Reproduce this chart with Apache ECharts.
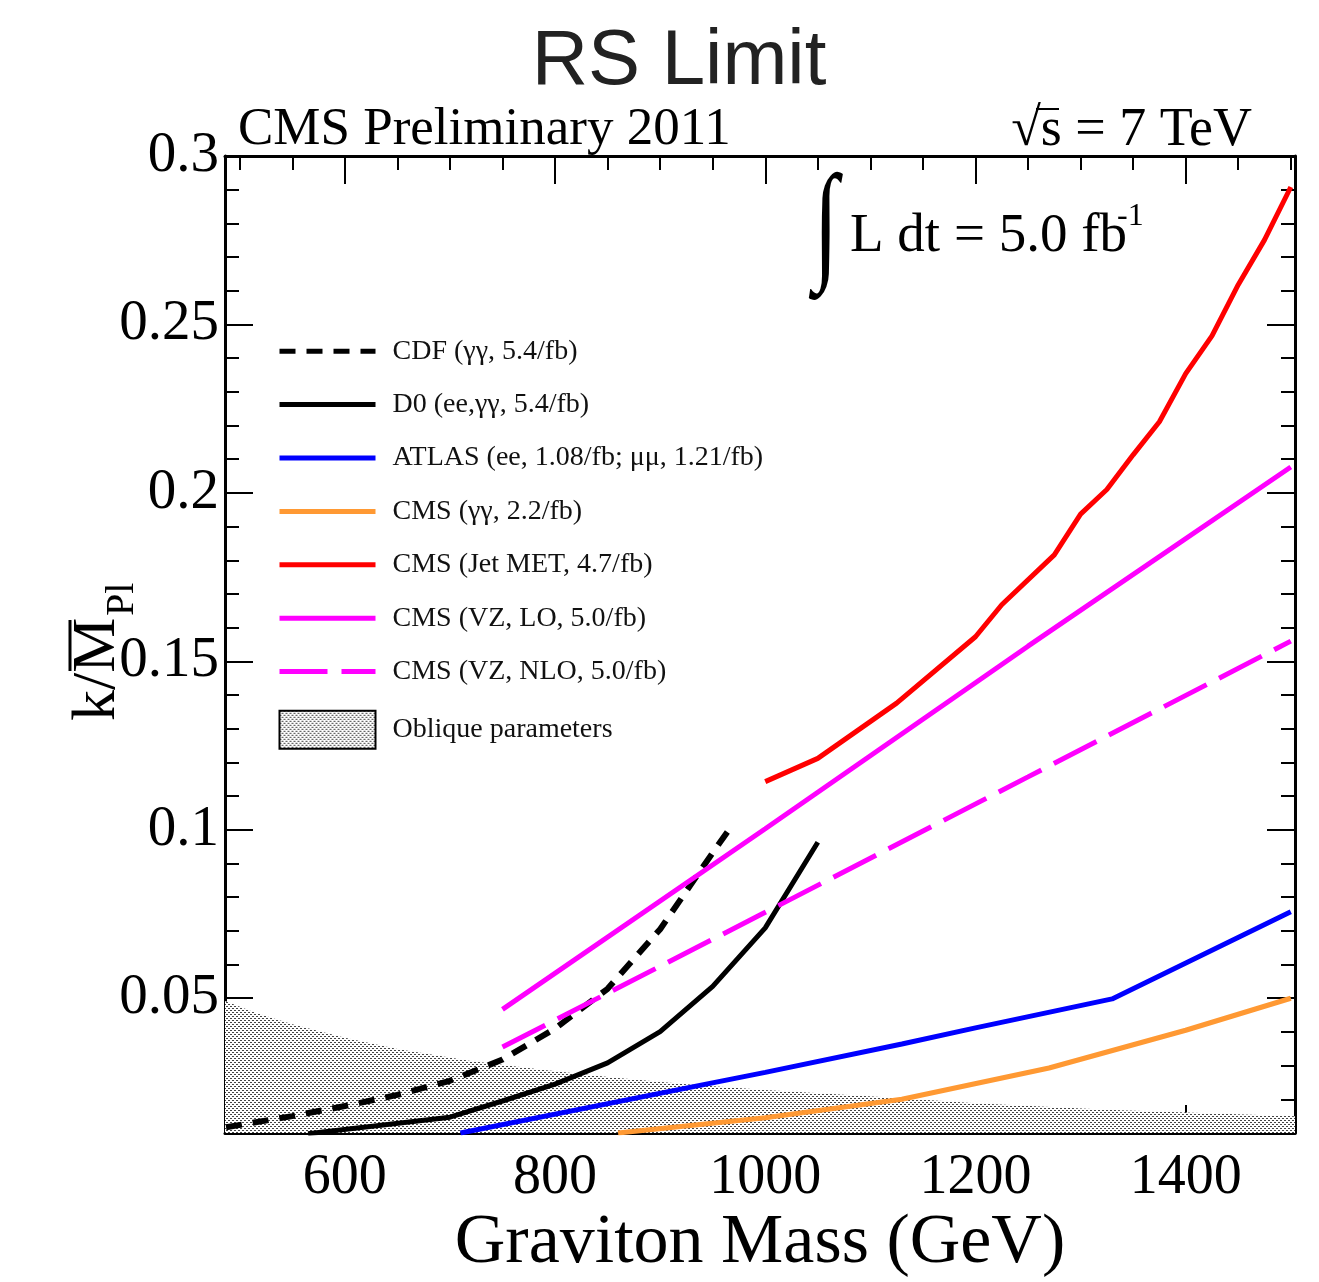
<!DOCTYPE html>
<html>
<head>
<meta charset="utf-8">
<script src="https://cdn.jsdelivr.net/npm/echarts@6/dist/echarts.min.js"></script>
<style>
  html, body { margin: 0; padding: 0; background: #fff; }
  #chart { width: 1319px; height: 1282px; }
</style>
</head>
<body>
<div id="chart"></div>
<script>
(function() {
  var serif = '"Liberation Serif", "Times New Roman", serif';
  var sans = '"Liberation Sans", Arial, sans-serif';

  // axis ticks
  var xLabelTicks = [600, 800, 1000, 1200, 1400];
  var xMinorTicks = [500, 550, 600, 650, 700, 750, 800, 850, 900, 950, 1000, 1050, 1100, 1150, 1200, 1250, 1300, 1350, 1400, 1450, 1500];
  var yLabelTicks = [0.05, 0.1, 0.15, 0.2, 0.25, 0.3];
  var yMinorTicks = [0.01, 0.02, 0.03, 0.04, 0.05, 0.06, 0.07, 0.08, 0.09, 0.1, 0.11, 0.12, 0.13, 0.14, 0.15,
    0.16, 0.17, 0.18, 0.19, 0.2, 0.21, 0.22, 0.23, 0.24, 0.25, 0.26, 0.27, 0.28, 0.29, 0.3];

  // limits [mass GeV, k/Mpl]
  var cdf = [[487, 0.0117], [550, 0.0150], [600, 0.0180], [650, 0.0213], [700, 0.0255], [750, 0.0318],
    [800, 0.0410], [850, 0.0528], [900, 0.0705], [950, 0.0932], [965, 0.0998]];
  var d0 = [[565, 0.0098], [700, 0.0147], [750, 0.0195], [800, 0.0245], [850, 0.0308], [900, 0.0401],
    [950, 0.0535], [1000, 0.0709], [1050, 0.0963]];
  var atlas = [[710, 0.0100], [1000, 0.0280], [1130, 0.0364], [1200, 0.0412], [1330, 0.0498], [1500, 0.0757]];
  var cmsGG = [[860, 0.0100], [1000, 0.0145], [1130, 0.0200], [1270, 0.0293], [1400, 0.0405], [1500, 0.0500]];
  var jetMet = [[1000, 0.1143], [1050, 0.1212], [1125, 0.1376], [1200, 0.1573], [1225, 0.1668], [1275, 0.1816],
    [1300, 0.1937], [1325, 0.2010], [1350, 0.2113], [1375, 0.2211], [1400, 0.2354], [1425, 0.2466],
    [1450, 0.2618], [1475, 0.2751], [1500, 0.2908]];
  var vzLO = [[750, 0.0467], [1000, 0.1003], [1250, 0.1545], [1500, 0.2077]];
  var vzNLO = [[750, 0.0355], [1000, 0.0755], [1250, 0.1157], [1500, 0.1560]];
  var oblique = [[486, 0.0492], [515, 0.0457], [550, 0.0423], [600, 0.0383], [650, 0.0349], [720, 0.0314],
    [790, 0.0287], [855, 0.0265], [925, 0.0245], [1000, 0.0228], [1130, 0.0203], [1200, 0.0188],
    [1325, 0.0169], [1504, 0.0150]];

  var names = ['CDF (γγ, 5.4/fb)', 'D0 (ee,γγ, 5.4/fb)', 'ATLAS (ee, 1.08/fb; μμ, 1.21/fb)', 'CMS (γγ, 2.2/fb)',
    'CMS (Jet MET, 4.7/fb)', 'CMS (VZ, LO, 5.0/fb)', 'CMS (VZ, NLO, 5.0/fb)', 'Oblique parameters'];
  var colors = ['#000', '#000', '#0000ff', '#ff9933', '#ff0000', '#ff00ff', '#ff00ff'];
  var dashes = [[16, 11], 'solid', 'solid', 'solid', 'solid', 'solid', [48, 14]];

  // stipple pattern for the oblique band
  var tile = document.createElement('canvas');
  tile.width = 4; tile.height = 4;
  var g = tile.getContext('2d');
  g.fillStyle = '#fff'; g.fillRect(0, 0, 4, 4);
  g.fillStyle = '#444';
  g.fillRect(0, 0, 2, 1);
  g.fillRect(2, 2, 2, 1);
  var stipple = { image: tile, repeat: 'repeat' };

  var black = '#000';
  var gridBox = { left: 225, top: 156, right: 24, bottom: 149, containLabel: false };

  function xAxisDef(grid, pos, ticks, len, labels) {
    return {
      type: 'value', gridIndex: grid, position: pos, min: 486, max: 1504,
      axisLine: { show: grid === 0, onZero: false, lineStyle: { color: black, width: 3 } },
      axisTick: { show: true, inside: true, length: len, customValues: ticks, lineStyle: { color: black, width: 2 } },
      axisLabel: labels ? { show: true, customValues: xLabelTicks, fontFamily: serif, fontSize: 56, color: black, margin: 17,
        formatter: function(v) { return String(v); } } : { show: false },
      splitLine: { show: false }
    };
  }
  function yAxisDef(grid, pos, ticks, len, labels) {
    return {
      type: 'value', gridIndex: grid, position: pos, min: 0.01, max: 0.3,
      axisLine: { show: grid === 0, onZero: false, lineStyle: { color: black, width: 3 } },
      axisTick: { show: true, inside: true, length: len, customValues: ticks, lineStyle: { color: black, width: 2 } },
      axisLabel: labels ? { show: true, customValues: yLabelTicks, fontFamily: serif, fontSize: 57, color: black, margin: 6,
        formatter: function(v) { return String(+v.toFixed(2)); } } : { show: false },
      splitLine: { show: false }
    };
  }

  function line(i, data) {
    return {
      name: names[i], type: 'line', data: data, symbol: 'none', z: 3,
      lineStyle: { color: colors[i], width: i === 0 ? 6 : 5, type: dashes[i], cap: 'butt' },
      itemStyle: { color: colors[i] }
    };
  }

  var legendData = names.slice(0, 7).map(function(n, i) {
    return { name: n, itemStyle: { opacity: 0 }, lineStyle: { color: colors[i], width: 5, type: dashes[i], opacity: 1 } };
  });
  legendData.push({ name: names[7], icon: 'rect', itemStyle: { color: stipple, borderColor: black, borderWidth: 2 } });

  var chart = echarts.init(document.getElementById('chart'));
  chart.setOption({
    animation: false,
    backgroundColor: '#fff',
    grid: [gridBox, gridBox],
    xAxis: [
      xAxisDef(0, 'bottom', xLabelTicks, 28, true),
      xAxisDef(0, 'top', xLabelTicks, 28, false),
      xAxisDef(1, 'bottom', xMinorTicks, 14, false),
      xAxisDef(1, 'top', xMinorTicks, 14, false)
    ],
    yAxis: [
      yAxisDef(0, 'left', yLabelTicks, 28, true),
      yAxisDef(0, 'right', yLabelTicks, 28, false),
      yAxisDef(1, 'left', yMinorTicks, 14, false),
      yAxisDef(1, 'right', yMinorTicks, 14, false)
    ],
    legend: {
      orient: 'vertical', left: 277, top: 336, padding: 0,
      itemWidth: 96, itemHeight: 38, itemGap: 23,
      selectedMode: false,
      textStyle: { fontFamily: serif, fontSize: 28, color: '#111', padding: [0, 0, 0, 12] },
      data: legendData
    },
    series: [
      {
        name: names[7], type: 'line', data: oblique, symbol: 'none', z: 1,
        lineStyle: { width: 0 },
        itemStyle: { color: stipple },
        areaStyle: { color: stipple, opacity: 1, origin: 'start' }
      },
      line(0, cdf),
      line(1, d0),
      line(2, atlas),
      line(3, cmsGG),
      line(4, jetMet),
      line(5, vzLO),
      line(6, vzNLO)
    ],
    graphic: { elements: [
      { type: 'text', x: 679, y: 62, style: { text: 'RS Limit', font: '78px ' + sans, fill: '#222', textAlign: 'center', align: 'center', textVerticalAlign: 'middle', verticalAlign: 'middle' } },
      { type: 'text', x: 238, y: 130, style: { text: 'CMS Preliminary 2011', font: '53px ' + serif, fill: black, textAlign: 'left', align: 'left', textVerticalAlign: 'middle', verticalAlign: 'middle' } },
      { type: 'text', x: 1252, y: 131, style: { text: '√s = 7 TeV', font: '54px ' + serif, fill: black, textAlign: 'right', align: 'right', textVerticalAlign: 'middle', verticalAlign: 'middle' } },
      { type: 'line', shape: { x1: 1036, y1: 109, x2: 1059, y2: 109 }, style: { stroke: black, lineWidth: 2 } },
      { type: 'text', x: 826, y: 231, scaleY: 1.45, style: { text: '∫', font: 'bold 90px ' + serif, fill: black, textAlign: 'center', align: 'center', textVerticalAlign: 'middle', verticalAlign: 'middle' } },
      { type: 'text', x: 850, y: 237, style: { text: 'L dt = 5.0 fb', font: '55px ' + serif, fill: black, textAlign: 'left', align: 'left', textVerticalAlign: 'middle', verticalAlign: 'middle' } },
      { type: 'text', x: 1117, y: 217, style: { text: '-1', font: '32px ' + serif, fill: black, textAlign: 'left', align: 'left', textVerticalAlign: 'middle', verticalAlign: 'middle' } },
      { type: 'text', x: 760, y: 1244, style: { text: 'Graviton Mass (GeV)', font: '70px ' + serif, fill: black, textAlign: 'center', align: 'center', textVerticalAlign: 'middle', verticalAlign: 'middle' } },
      { type: 'group', x: 119, y: 721, rotation: Math.PI / 2, children: [
        { type: 'text', x: 0, y: -21, style: { text: 'k/M', font: '62px ' + serif, fill: black, textAlign: 'left', align: 'left', textVerticalAlign: 'middle', verticalAlign: 'middle' } },
        { type: 'line', shape: { x1: 50, y1: -49, x2: 101, y2: -49 }, style: { stroke: black, lineWidth: 3 } },
        { type: 'text', x: 105, y: 3, style: { text: 'Pl', font: '40px ' + serif, fill: black, textAlign: 'left', align: 'left', textVerticalAlign: 'middle', verticalAlign: 'middle' } }
      ] }
    ] }
  });
  window.addEventListener('resize', function() { chart.resize(); });
})();
</script>
</body>
</html>
